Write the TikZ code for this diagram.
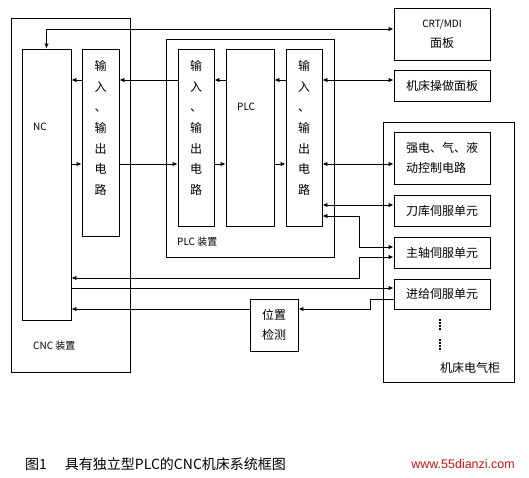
\documentclass[tikz,border=0pt]{standalone}
\usepackage{fontspec}
\setmainfont{Noto Sans CJK SC}
\newfontfamily\webfont{Liberation Sans}
\usepackage{tikz}
\usetikzlibrary{arrows.meta,positioning}
\definecolor{webred}{RGB}{204,20,20}

\begin{document}
\begin{tikzpicture}[x=1pt,y=-1pt,
  box/.style={
    rectangle, draw, line width=0.9pt, inner sep=0pt,
    align=center, font=\fontsize{12}{20}\selectfont
  },
  arr/.style={-{Latex[length=5pt,width=4.5pt]}, line width=0.9pt},
  darr/.style={{Latex[length=5pt,width=4.5pt]}-{Latex[length=5pt,width=4.5pt]}, line width=0.9pt},
  label/.style={inner sep=0pt, font=\fontsize{10}{12}\selectfont},
  iotext/.style={inner sep=0pt, align=center, font=\fontsize{12}{20.6}\selectfont}
]
\useasboundingbox (0,0) rectangle (529,477);

% CNC unit
\node[box, minimum width=119pt, minimum height=354pt] (cnc) at (70.5,195) {};
\node[box, minimum width=49pt, minimum height=271pt] (nc) at (46.5,184.5) {};
\node[box, minimum width=37pt, minimum height=187pt] (io1) at (100.5,142.5) {};
\node[iotext] (io1t) at (100.5,128) {输\\入\\、\\输\\出\\电\\路};
\node[label, anchor=west] (nct) at (33,127) {NC};
\node[label, anchor=west] (cnct) at (33,346) {CNC 装置};

% PLC unit
\node[box, minimum width=168pt, minimum height=218pt] (plcu) at (250,148) {};
\node[box, minimum width=36pt, minimum height=177pt] (io2) at (196,137.5) {};
\node[iotext] (io2t) at (196,128) {输\\入\\、\\输\\出\\电\\路};
\node[box, minimum width=48pt, minimum height=177pt] (plc) at (250,137.5) {};
\node[label, anchor=west] (plct) at (237,107) {PLC};
\node[box, minimum width=36pt, minimum height=177pt] (io3) at (304,137.5) {};
\node[iotext] (io3t) at (304,128) {输\\入\\、\\输\\出\\电\\路};
\node[label, anchor=west] (plcut) at (177,242) {PLC 装置};

% Panels
\node[box, minimum width=96pt, minimum height=52pt] (crt) at (442,34)
  {{\fontsize{10}{12}\selectfont CRT/MDI}\\面板};
\node[box, minimum width=96pt, minimum height=31pt] (panel) at (442,85.5) {机床操做面板};

% Machine cabinet
\node[box, minimum width=131pt, minimum height=260pt] (cab) at (448.5,252) {};
\node[box, minimum width=96pt, minimum height=52pt, align=left] (strong) at (442,158)
  {强电、气、液\\动控制电路};
\node[box, minimum width=96pt, minimum height=31pt] (tool) at (442,210.5) {刀库伺服单元};
\node[box, minimum width=96pt, minimum height=31pt] (spindle) at (442,252.5) {主轴伺服单元};
\node[box, minimum width=96pt, minimum height=30pt] (feed) at (442,294) {进给伺服单元};
\node[inner sep=0pt, font=\fontsize{12}{14}\selectfont] (cabt) at (470,368) {机床电气柜};
\draw[line width=2.2pt, dash pattern=on 1.6pt off 1.4pt] (440,319) -- (440,331);
\draw[line width=2.2pt, dash pattern=on 1.6pt off 1.4pt] (440,339) -- (440,351);

% Position feedback
\node[box, minimum width=48pt, minimum height=52pt] (pos) at (274,325) {位置\\检测};

% Signals NC <-> PLC
\draw[arr] (io1.west |- 0,80) -- (nc.east |- 0,80);
\draw[arr] (nc.east |- 0,164) -- (io1.west |- 0,164);
\draw[arr] (io2.west |- 0,80) -- (io1.east |- 0,80);
\draw[arr] (io1.east |- 0,164) -- (io2.west |- 0,164);
\draw[arr] (plc.west |- 0,80) -- (io2.east |- 0,80);
\draw[arr] (io2.east |- 0,164) -- (plc.west |- 0,164);
\draw[arr] (io3.west |- 0,80) -- (plc.east |- 0,80);
\draw[arr] (plc.east |- 0,164) -- (io3.west |- 0,164);

% Signals to the machine
\draw[darr] (nc.north) |- (crt.west |- 0,29);
\draw[darr] (io3.east |- 0,80) -- (panel.west |- 0,80);
\draw[darr] (io3.east |- 0,164) -- (strong.west |- 0,164);
\draw[darr] (io3.east |- 0,205) -- (tool.west |- 0,205);
\draw[darr] (io3.east |- 0,216) -- (359,216) -- (359,247) -- (spindle.west |- 0,247);
\draw[darr] (nc.east |- 0,278) -- (359,278) -- (359,257) -- (spindle.west |- 0,257);
\draw[arr] (nc.east |- 0,288) -- (feed.west |- 0,288);
\draw[arr] (feed.west |- 0,299) -- (370,299) -- (370,309) -- (pos.east |- 0,309);
\draw[arr] (pos.west |- 0,309) -- (nc.east |- 0,309);

% Caption
\node[inner sep=0pt, anchor=west, font=\fontsize{14}{16}\selectfont] (cap) at (25,464)
  {图1\hspace{18pt}具有独立型PLC的CNC机床系统框图};
\node[inner sep=0pt, anchor=east, text=webred, font=\webfont\fontsize{12.5}{14}\selectfont] (web) at (515,464)
  {www.55dianzi.com};

\end{tikzpicture}
\end{document}
